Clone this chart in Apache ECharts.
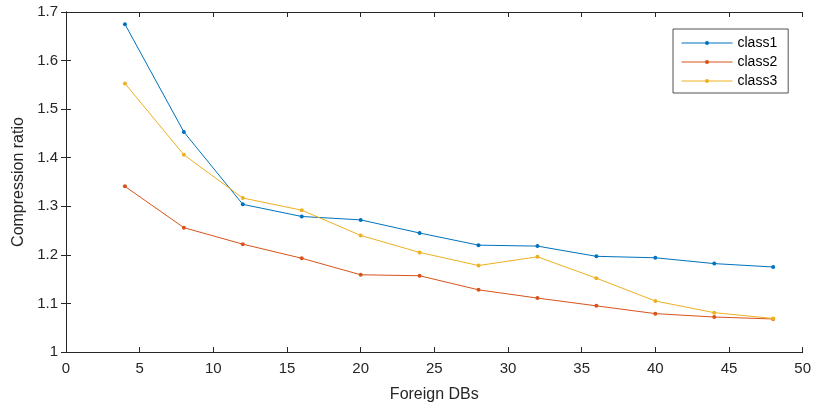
<!DOCTYPE html>
<html>
<head>
<meta charset="utf-8">
<script src="https://cdn.jsdelivr.net/npm/echarts@6/dist/echarts.min.js"></script>
<style>
  html, body { margin: 0; padding: 0; background: #fff; }
  #chart { width: 814px; height: 408px; }
</style>
</head>
<body>
<div id="chart"></div>
<script>
// Number of foreign databases on the x axis
const foreignDBs = [4, 8, 12, 16, 20, 24, 28, 32, 36, 40, 44, 48];

// Compression ratio per class
const class1 = [1.675, 1.453, 1.304, 1.279, 1.272, 1.245, 1.220, 1.218, 1.197, 1.194, 1.182, 1.175];
const class2 = [1.341, 1.256, 1.222, 1.193, 1.159, 1.157, 1.128, 1.111, 1.095, 1.079, 1.072, 1.068];
const class3 = [1.553, 1.406, 1.317, 1.292, 1.240, 1.205, 1.178, 1.196, 1.152, 1.105, 1.081, 1.069];

const seriesNames = ['class1', 'class2', 'class3'];
const seriesValues = [class1, class2, class3];
const colors = ['#0072BD', '#D95319', '#EDB120'];

const FONT = '"Liberation Sans", Helvetica, Arial, sans-serif';
const AXIS_COLOR = '#262626';

const pairs = (vals) => foreignDBs.map((x, i) => [x, vals[i]]);

const boxAxis = (extra) => Object.assign({
  axisLine: { show: true, lineStyle: { color: AXIS_COLOR, width: 1 } },
  axisTick: { show: true, inside: true, length: 5, lineStyle: { color: AXIS_COLOR } },
  splitLine: { show: false }
}, extra);

const chart = echarts.init(document.getElementById('chart'), null, { renderer: 'canvas' });

chart.setOption({
  animation: false,
  backgroundColor: '#ffffff',
  grid: { left: 66, right: 10, top: 12, bottom: 55, containLabel: false },
  legend: {
    data: seriesNames,
    orient: 'vertical',
    left: 673,
    top: 29,
    padding: [7, 11, 5, 8],
    itemWidth: 51,
    itemHeight: 5,
    itemGap: 5,
    backgroundColor: '#ffffff',
    borderColor: '#262626',
    borderWidth: 0.8,
    lineStyle: { width: 1 },
    textStyle: { fontFamily: FONT, fontSize: 14, color: '#000' }
  },
  xAxis: [
    boxAxis({
      type: 'value', min: 0, max: 50, interval: 5,
      name: 'Foreign DBs', nameLocation: 'middle', nameGap: 35,
      nameTextStyle: { fontFamily: FONT, fontSize: 16, color: AXIS_COLOR },
      axisLabel: { fontFamily: FONT, fontSize: 15, color: AXIS_COLOR, margin: 9 }
    }),
    boxAxis({
      type: 'value', min: 0, max: 50, interval: 5, position: 'top',
      axisLabel: { show: false }
    })
  ],
  yAxis: [
    boxAxis({
      type: 'value', min: 1, max: 1.7, interval: 0.1,
      name: 'Compression ratio', nameLocation: 'middle', nameGap: 38,
      nameTextStyle: { fontFamily: FONT, fontSize: 16, color: AXIS_COLOR },
      axisLabel: { fontFamily: FONT, fontSize: 15, color: AXIS_COLOR, margin: 8 }
    }),
    boxAxis({
      type: 'value', min: 1, max: 1.7, interval: 0.1, position: 'right',
      axisLabel: { show: false }
    })
  ],
  series: seriesNames.map((name, i) => ({
    name: name,
    type: 'line',
    data: pairs(seriesValues[i]),
    xAxisIndex: 0,
    yAxisIndex: 0,
    symbol: 'circle',
    symbolSize: 4,
    showSymbol: true,
    lineStyle: { color: colors[i], width: 1 },
    itemStyle: { color: colors[i] }
  }))
});
</script>
</body>
</html>
